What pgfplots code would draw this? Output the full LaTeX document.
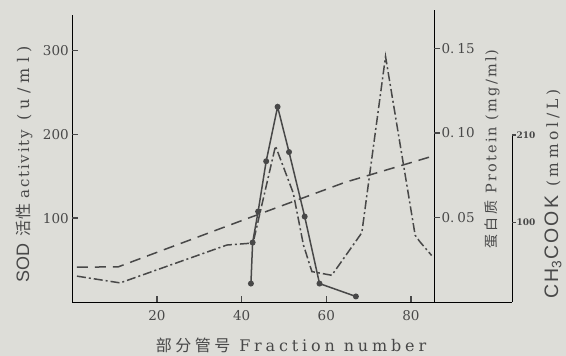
\documentclass[border=0pt]{standalone}
\usepackage{fontspec}
\setmainfont{DejaVu Serif}
\setsansfont{Liberation Sans}
\newfontfamily\cjk[LetterSpace=8]{Noto Sans CJK SC}
\newfontfamily\cjkw[LetterSpace=22]{Noto Sans CJK SC}
\newfontfamily\lblfont[LetterSpace=15]{DejaVu Serif}
\newfontfamily\lblA[LetterSpace=12]{DejaVu Serif}
\newfontfamily\lblB[LetterSpace=33]{DejaVu Serif}
\newfontfamily\lblfontw[LetterSpace=24]{DejaVu Serif}
\newfontfamily\lblsans{Liberation Sans}
\newfontfamily\lblsansw[LetterSpace=12]{Liberation Sans}
\usepackage{pgfplots}
\pgfplotsset{compat=1.18}
\definecolor{bg}{RGB}{221,221,216}
\definecolor{ink}{RGB}{72,72,72}

\pgfplotstableread{
x y
42.2 22
42.6 71
43.9 108
45.8 168
48.5 233
51.2 179
54.9 102
58.4 22
67.0 6.6
}\sodtable

\pgfplotstableread{
x y
1.1 0.0153
11.3 0.0113
36.5 0.0337
42.7 0.0349
48.0 0.0923
52.2 0.0645
54.6 0.0338
56.6 0.0180
61.3 0.0158
68.4 0.0410
74.0 0.1453
81.0 0.0395
82.1 0.0357
84.9 0.0275
}\proteintable

\pgfplotstableread{
x y
1.1 43.9
10.8 44.1
39.6 101.5
64.4 150.4
84.7 182.7
}\salttable

\begin{document}
\begin{tikzpicture}
\path[use as bounding box, fill=bg] (0,0) rectangle (566pt,356pt);

\pgfplotsset{common/.style={
  scale only axis,
  /pgf/number format/assume math mode=true,
  ticklabel style={text=ink, font=\fontsize{13.5}{14}\selectfont},
  clip=false,
},
noarrows/.style={
  axis line style={-, draw=ink, line width=1.3pt},
  every inner x axis line/.style={-},
  every outer x axis line/.style={-},
  every inner y axis line/.style={-},
  every outer y axis line/.style={-},
  x axis line style={-},
  y axis line style={-},
  major tick length=6pt,
  every tick/.style={draw=ink, line width=1.5pt},
}}

% SOD axis (left) with fraction number
\begin{axis}[common,
  at={(72.3pt,54pt)}, anchor=south west,
  width=361.7pt, height=286.5pt,
  xmin=0, xmax=85.45, ymin=0, ymax=342,
  axis x line=bottom, axis y line=left,
  xtick={20,40,60,80}, ytick={100,200,300},
  xticklabel style={yshift=-5pt},
  noarrows,
  tick align=inside,
]
\addplot[ink, line width=1.5pt, mark=*, mark size=2.2pt, mark options={fill=ink, solid}] table {\sodtable};
\pgfplotsinvokeforeach{20,40,60,80}{\draw[ink, line width=1.5pt] (axis cs:#1,0) -- ++(0pt,6pt);}
\pgfplotsinvokeforeach{100,200,300}{\draw[ink, line width=1.5pt] (axis cs:0,#1) -- ++(6pt,0pt);}
\end{axis}

% Protein axis (right)
\begin{axis}[common,
  at={(72.3pt,54pt)}, anchor=south west,
  width=361.7pt, height=291.5pt,
  xmin=0, xmax=85.45, ymin=0, ymax=0.1725,
  axis x line=none, axis y line=right,
  xtick=\empty,
  ytick={0.05,0.10,0.15},
  yticklabels={0.\kern3pt05,0.\kern3pt10,0.\kern3pt15},
  yticklabel style={xshift=-2pt},
  noarrows,
  tick align=outside,
]
\addplot[ink, line width=1.5pt, dash pattern=on 9pt off 3pt on 2pt off 3pt] table {\proteintable};
\pgfplotsinvokeforeach{0.05,0.10,0.15}{\draw[ink, line width=1.5pt] (axis cs:85.45,#1) -- ++(5pt,0pt);}
\end{axis}

% CH3COOK axis (far right)
\begin{axis}[common,
  at={(72.3pt,54pt)}, anchor=south west,
  width=439.7pt, height=167pt,
  xmin=0, xmax=103.9, ymin=0, ymax=210,
  axis x line=bottom, axis y line=right,
  xtick=\empty,
  ytick={100,210},
  yticklabel style={font=\fontsize{9}{10}\selectfont\bfseries, xshift=-3pt},
  noarrows,
  major tick length=4pt,
  tick align=outside,
]
\addplot[ink, line width=1.5pt, dash pattern=on 11pt off 7pt] table {\salttable};
\pgfplotsinvokeforeach{100,210}{\draw[ink, line width=1.5pt] (axis cs:103.9,#1) -- ++(4pt,0pt);}
\end{axis}

\node[rotate=90, text=ink, anchor=west, inner sep=0pt] at (24pt,73pt) {{\lblsans\fontsize{18}{18}\selectfont SOD}\kern7pt{\cjk\fontsize{16}{16}\selectfont 活性}\kern5pt{\lblA\fontsize{15}{16}\selectfont activity}\kern9pt{\lblB\fontsize{16}{16}\selectfont (u/ml)}};
\node[rotate=90, text=ink, font=\fontsize{14.5}{16}\lblfont] at (492pt,207pt) {{\cjkw\fontsize{14}{16}\selectfont 蛋白质} Protein (mg/ml)};
\node[rotate=90, text=ink, font=\fontsize{15.5}{16}\lblfontw] at (553pt,162pt) {{\lblsansw\fontsize{19.5}{20}\selectfont CH\textsubscript{3}COOK} (mmol/L)};
\node[text=ink, font=\fontsize{16}{16}\lblfontw] at (291pt,11pt) {{\cjkw\fontsize{16}{16}\selectfont 部分管号} Fraction number};
\end{tikzpicture}
\end{document}
